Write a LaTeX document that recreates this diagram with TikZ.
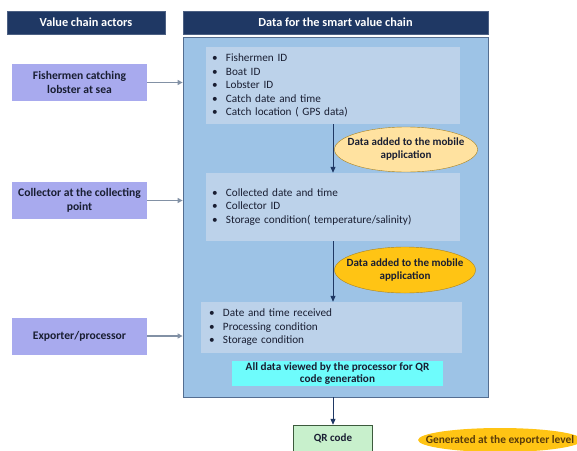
\documentclass[tikz,border=0pt]{standalone}
\usepackage{fontspec}
\setmainfont{Carlito}
\usetikzlibrary{arrows.meta,shapes.geometric}

\definecolor{navy}{RGB}{31,56,100}
\definecolor{boxblue}{RGB}{157,195,230}
\definecolor{boxedge}{RGB}{84,110,145}
\definecolor{listblue}{RGB}{188,210,234}
\definecolor{lavender}{RGB}{168,170,238}
\definecolor{peach}{RGB}{255,226,160}
\definecolor{gold}{RGB}{255,196,20}
\definecolor{goldedge}{RGB}{170,130,30}
\definecolor{qrcyan}{RGB}{110,252,252}
\definecolor{qrgreen}{RGB}{200,240,204}
\definecolor{qredge}{RGB}{60,90,60}
\definecolor{linkgray}{RGB}{130,145,165}
\definecolor{inkdark}{RGB}{25,30,50}
\definecolor{inkbrown}{RGB}{90,60,10}

\newcommand{\itm}[1]{\makebox[14pt][l]{\textbullet}#1}

\begin{document}
\begin{tikzpicture}[x=1pt, y=-1pt,
    header/.style={fill=navy, draw=navy!80, text=white, font=\fontsize{12.3}{14}\selectfont\bfseries,
      minimum height=23pt, inner sep=0pt},
    actor/.style={fill=lavender, text=inkdark, font=\fontsize{11.6}{13.5}\selectfont\bfseries,
      align=center, minimum width=135pt, minimum height=37pt, inner sep=0pt},
    datalist/.style={fill=listblue, text=inkdark, font=\fontsize{11.2}{13.5}\selectfont,
      align=left, inner ysep=0pt},
    bubble/.style={ellipse, draw=goldedge, thin, inner sep=0pt},
    bubbletext/.style={text=inkdark, font=\fontsize{11}{13}\selectfont\bfseries, align=center},
    feed/.style={draw=linkgray, line width=1.2pt, -{Triangle[length=5pt,width=5pt]}},
    flow/.style={draw=navy, line width=1pt, -{Triangle[length=6pt,width=5pt]}}]
    \useasboundingbox (0,0) rectangle (577,450);

    % Headers
    \node[header, minimum width=158pt] (hdrActors) at (86,22.5) {Value chain actors};
    \node[header, minimum width=305pt] (hdrData) at (335.5,22.5) {Data for the smart value chain};

    % Data container
    \node[fill=boxblue, draw=boxedge, thick, minimum width=305pt, minimum height=360pt] (dataBox) at (335.5,217) {};

    % Data lists
    \node[datalist, text width=242pt, inner xsep=6pt, minimum height=77pt] (list1) at (333,85.5)
      {\itm{Fishermen ID}\\ \itm{Boat ID}\\ \itm{Lobster ID}\\ \itm{Catch date and time}\\ \itm{Catch location ( GPS data)}};
    \node[datalist, text width=242pt, inner xsep=6pt, minimum height=68pt] (list2) at (333,207)
      {\itm{Collected date and time}\\ \itm{Collector ID}\\ \itm{Storage condition( temperature/salinity)}};
    \node[datalist, text width=245pt, inner xsep=8pt, minimum height=51pt] (list3) at (331.5,327.5)
      {\itm{Date and time received}\\ \itm{Processing condition}\\ \itm{Storage condition}};

    % Mobile application bubbles
    \node[bubble, fill=peach, minimum width=143pt, minimum height=45pt,
      label={[bubbletext]center:Data added to the mobile\\application}] (app1) at (406,149.5) {};
    \node[bubble, fill=gold, minimum width=141pt, minimum height=46pt,
      label={[bubbletext]center:Data added to the mobile\\application}] (app2) at (405,270) {};

    % QR generation
    \node[fill=qrcyan, text=inkdark, font=\fontsize{11.2}{12.5}\selectfont\bfseries, align=center,
      minimum width=211pt, minimum height=25pt, inner sep=0pt] (qrGen) at (337.5,373.5)
      {All data viewed by the processor for QR\\code generation};
    \node[fill=qrgreen, draw=qredge, text=inkdark, font=\fontsize{11}{13}\selectfont\bfseries,
      minimum width=79pt, minimum height=27pt, inner sep=0pt] (qr) at (333,438.5) {QR code};
    \node[ellipse, fill=gold, inner sep=0pt, minimum width=164pt, minimum height=24pt,
      label={[text=inkbrown, font=\fontsize{11.4}{13}\selectfont\bfseries]center:Generated at the exporter level}]
      (genLevel) at (500,440) {};

    % Actors
    \node[actor] (fisher) at (79.5,82.5) {Fishermen catching\\lobster at sea};
    \node[actor] (collector) at (79.5,200.5) {Collector at the collecting\\point};
    \node[actor] (exporter) at (79.5,336) {Exporter/processor};

    % Actor links
    \draw[feed] (fisher.east) -- (fisher.east -| dataBox.west);
    \draw[feed] (collector.east) -- (collector.east -| dataBox.west);
    \draw[feed] (exporter.east) -- (exporter.east -| dataBox.west);

    % Data flow
    \draw[flow] (list1.south) -- (list2.north);
    \draw[flow] (list2.south) -- (list2.south |- list3.north);
    \draw[flow] (dataBox.south -| qr.north) -- (qr.north);
\end{tikzpicture}
\end{document}
